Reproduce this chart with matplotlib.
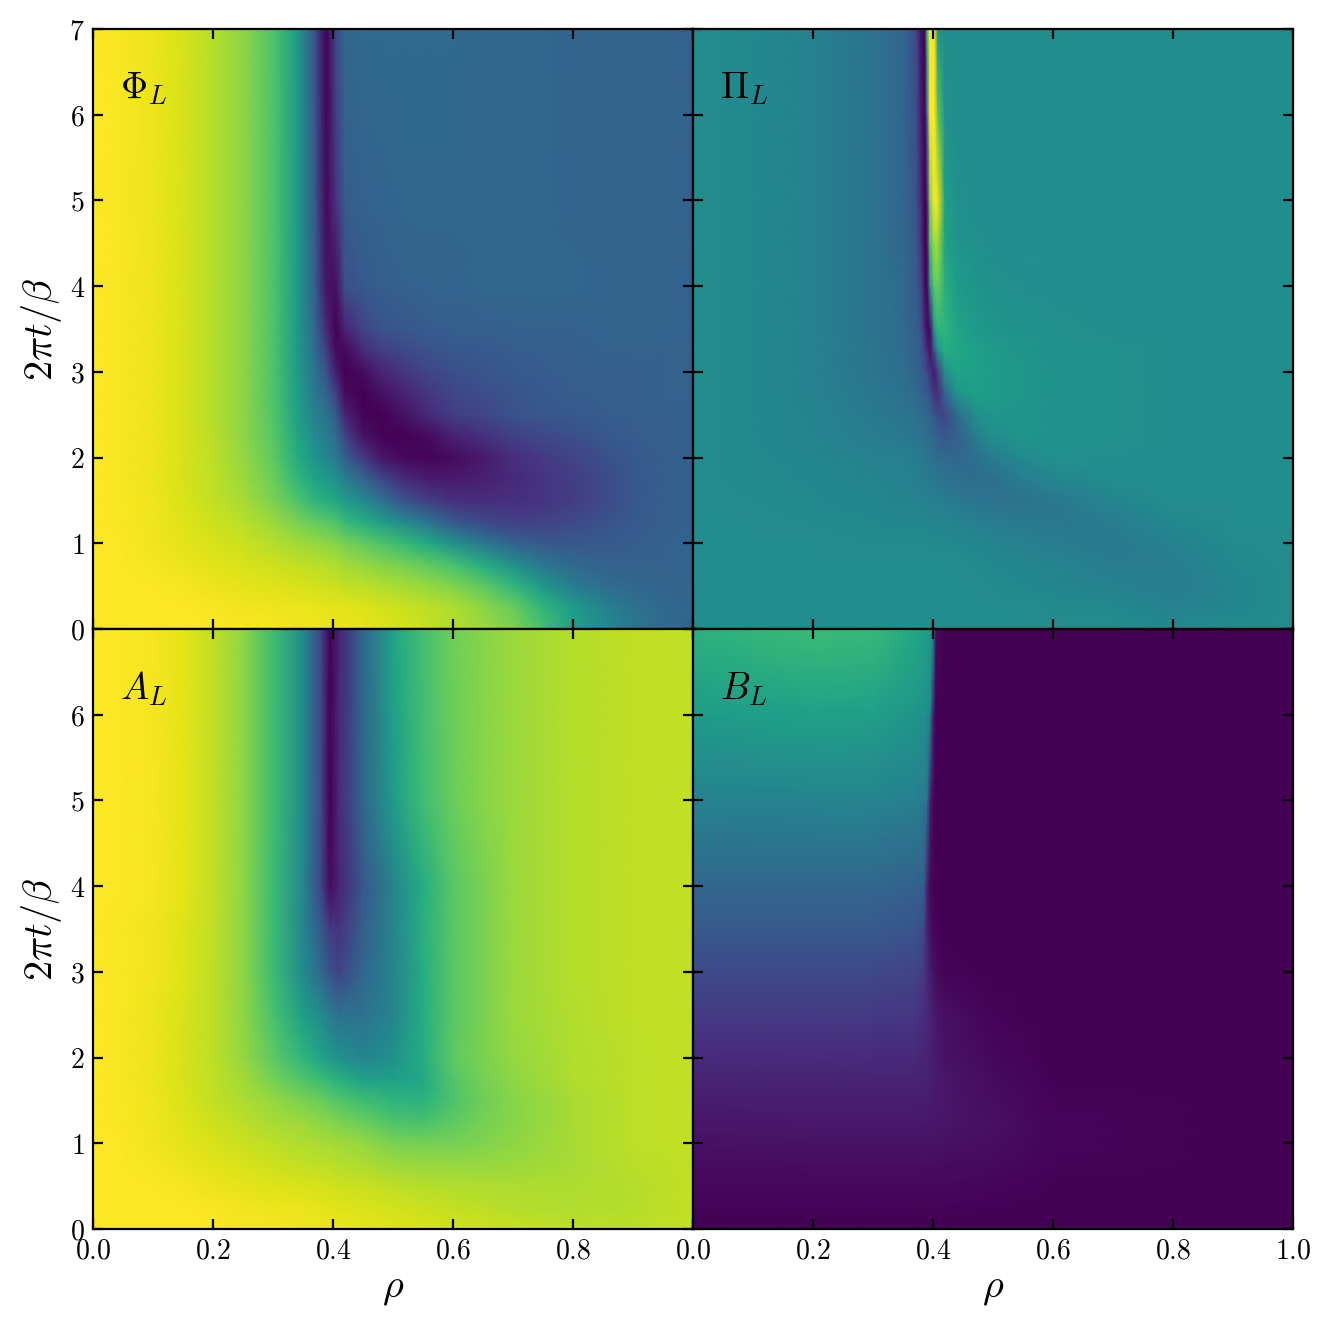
import numpy as np
import matplotlib
matplotlib.use("Agg")
import matplotlib.pyplot as plt

plt.rcParams['mathtext.fontset'] = 'cm'
plt.rcParams['font.family'] = ['DejaVu Serif']

T_PHI = [0, .25, .5, .75, 1, 1.25, 1.5, 1.75, 2, 2.25, 2.5, 2.75, 3, 3.25, 3.5, 4, 5, 7]
RHO_PHI = [0, .05, .1, .15, .2, .25, .3, .34, .37, .389, .405, .42, .45, .48, .52, .56, .6, .65, .7, .75, .8, .85, .9, .95, 1.0]
PHI = [
    [1, 1, 1, 1, .995, .99, .985, .98, .975, .97, .97, .965, .96, .95, .93, .91, .885, .85, .8, .7, .58, .49, .4, .35, .32],
    [1, 1, 1, .995, .99, .98, .975, .97, .965, .96, .96, .955, .95, .935, .92, .9, .88, .83, .77, .66, .55, .45, .38, .34, .32],
    [1, 1, .995, .985, .97, .96, .95, .94, .93, .925, .92, .91, .9, .885, .865, .84, .81, .75, .66, .53, .42, .36, .33, .32, .32],
    [1, .995, .985, .97, .955, .94, .925, .91, .895, .89, .88, .86, .84, .815, .79, .75, .71, .62, .5, .4, .34, .31, .31, .31, .32],
    [1, .995, .98, .96, .94, .92, .89, .86, .84, .83, .82, .79, .76, .72, .67, .6, .5, .4, .32, .28, .27, .28, .29, .31, .32],
    [1, .99, .975, .95, .925, .895, .85, .8, .76, .74, .72, .67, .62, .56, .47, .38, .28, .22, .19, .2, .22, .25, .28, .3, .31],
    [1, .99, .975, .945, .91, .87, .8, .72, .65, .62, .59, .54, .47, .38, .25, .18, .14, .13, .14, .15, .18, .22, .27, .3, .31],
    [1, .99, .97, .94, .905, .85, .77, .66, .58, .54, .5, .43, .33, .22, .12, .08, .07, .09, .12, .15, .18, .22, .27, .3, .31],
    [1, .99, .97, .94, .9, .84, .75, .62, .52, .46, .41, .3, .17, .06, .02, .01, .03, .07, .13, .17, .2, .24, .28, .3, .31],
    [1, .99, .97, .94, .895, .83, .74, .59, .48, .42, .35, .2, .05, .01, 0, .03, .09, .14, .19, .22, .24, .27, .29, .3, .31],
    [1, .99, .97, .94, .89, .83, .73, .57, .44, .38, .28, .1, .01, 0, .05, .12, .18, .21, .25, .27, .28, .29, .3, .3, .31],
    [1, .99, .97, .94, .89, .83, .72, .56, .4, .32, .18, .03, 0, .04, .1, .16, .21, .24, .26, .28, .29, .3, .3, .31, .31],
    [1, .99, .97, .94, .89, .83, .72, .55, .38, .25, .08, 0, .03, .1, .16, .21, .24, .26, .28, .29, .3, .3, .3, .31, .31],
    [1, .99, .97, .94, .89, .83, .72, .55, .35, .18, .02, .02, .12, .18, .22, .25, .27, .28, .29, .3, .3, .31, .31, .31, .31],
    [1, .99, .97, .94, .89, .83, .72, .55, .33, .12, 0, .1, .2, .25, .27, .29, .3, .3, .31, .31, .31, .32, .32, .32, .31],
    [1, .99, .97, .94, .89, .83, .72, .55, .3, .05, .04, .24, .28, .3, .31, .32, .32, .33, .33, .33, .33, .32, .32, .32, .31],
    [1, .99, .97, .94, .89, .83, .72, .55, .28, .02, .15, .29, .31, .32, .33, .33, .33, .33, .33, .33, .32, .32, .32, .32, .31],
    [1, .99, .97, .94, .89, .83, .72, .55, .25, 0, .22, .33, .34, .34, .34, .34, .34, .33, .33, .33, .32, .32, .32, .32, .31],
]

T_PI = [0, .25, .5, .75, 1, 1.25, 1.5, 1.75, 2, 2.25, 2.5, 2.75, 3, 3.25, 3.5, 4, 4.5, 5, 6, 7]
RHO_PI = [0, .1, .2, .3, .35, .372, .38, .386, .39, .395, .402, .408, .42, .44, .47, .5, .55, .6, .7, .8, .9, 1.0]
PI = [
    [.485, .485, .485, .485, .485, .485, .485, .485, .485, .485, .485, .485, .485, .485, .485, .485, .485, .485, .485, .475, .485, .485],
    [.485, .485, .485, .485, .485, .485, .485, .485, .485, .485, .485, .485, .485, .485, .485, .485, .485, .48, .47, .44, .46, .485],
    [.485, .485, .485, .485, .485, .485, .485, .485, .485, .485, .485, .485, .485, .485, .485, .48, .47, .46, .44, .42, .46, .485],
    [.485, .485, .485, .485, .485, .485, .485, .485, .485, .485, .485, .485, .485, .485, .48, .47, .46, .45, .42, .42, .47, .485],
    [.485, .485, .485, .48, .48, .48, .48, .48, .48, .48, .475, .475, .47, .47, .46, .45, .44, .42, .41, .44, .48, .485],
    [.485, .485, .48, .47, .46, .46, .46, .46, .46, .45, .45, .45, .45, .44, .43, .42, .41, .4, .42, .47, .485, .485],
    [.485, .48, .47, .46, .45, .44, .44, .44, .44, .43, .43, .43, .42, .41, .39, .38, .38, .4, .46, .49, .485, .485],
    [.485, .475, .465, .45, .44, .43, .425, .42, .415, .41, .4, .39, .38, .36, .35, .36, .42, .46, .49, .49, .485, .485],
    [.485, .475, .46, .44, .43, .415, .41, .4, .39, .38, .37, .355, .34, .33, .36, .42, .48, .5, .495, .49, .485, .485],
    [.485, .47, .45, .42, .41, .39, .38, .37, .36, .35, .33, .3, .27, .3, .42, .49, .52, .51, .5, .49, .485, .485],
    [.485, .47, .45, .41, .39, .37, .35, .34, .33, .31, .27, .23, .2, .35, .49, .53, .52, .51, .5, .49, .485, .485],
    [.485, .47, .44, .4, .37, .34, .32, .3, .28, .24, .15, .13, .33, .52, .56, .55, .53, .51, .5, .49, .485, .485],
    [.485, .47, .44, .39, .36, .32, .29, .26, .22, .15, .06, .18, .5, .58, .57, .55, .53, .51, .5, .49, .485, .485],
    [.485, .47, .44, .39, .35, .31, .27, .2, .13, .04, .25, .5, .62, .6, .57, .54, .52, .51, .5, .49, .485, .485],
    [.485, .47, .44, .38, .34, .3, .25, .12, .03, .02, .55, .65, .65, .58, .54, .52, .51, .5, .49, .485, .485, .485],
    [.485, .47, .44, .38, .34, .28, .2, .04, 0, .5, .74, .76, .63, .55, .52, .5, .495, .49, .485, .485, .485, .485],
    [.485, .47, .44, .38, .335, .27, .15, .01, .03, .7, .86, .85, .58, .52, .5, .49, .485, .485, .485, .485, .485, .485],
    [.485, .47, .44, .38, .33, .25, .12, 0, .05, .8, 1, .97, .56, .5, .49, .485, .485, .485, .485, .485, .485, .485],
    [.485, .47, .44, .38, .33, .24, .08, 0, .3, 1, 1, .75, .5, .49, .485, .485, .485, .485, .485, .485, .485, .485],
    [.485, .47, .44, .38, .33, .22, .05, 0, .65, 1, 1, .5, .49, .485, .485, .485, .485, .485, .485, .485, .485, .485],
]

T_A = [0, .25, .5, .75, 1, 1.25, 1.5, 1.75, 2, 2.5, 3, 3.5, 4, 5, 7]
RHO_A = [0, .05, .1, .15, .2, .25, .3, .35, .38, .395, .41, .45, .5, .55, .6, .65, .7, .8, .9, 1.0]
A = [
    [1, 1, 1, 1, .995, .99, .985, .98, .975, .97, .97, .96, .95, .94, .93, .925, .915, .9, .9, .91],
    [1, 1, 1, .995, .99, .98, .97, .965, .96, .955, .95, .945, .93, .92, .91, .9, .89, .88, .89, .91],
    [1, 1, .995, .985, .97, .96, .95, .94, .935, .93, .925, .915, .9, .89, .885, .88, .875, .875, .89, .91],
    [1, .995, .985, .97, .955, .94, .925, .91, .9, .9, .89, .875, .855, .845, .84, .84, .85, .87, .895, .91],
    [1, .995, .98, .96, .94, .92, .9, .88, .87, .865, .86, .84, .8, .79, .79, .81, .83, .87, .9, .91],
    [1, .99, .975, .95, .925, .895, .87, .85, .83, .82, .8, .77, .72, .71, .75, .79, .82, .87, .9, .91],
    [1, .99, .975, .945, .91, .875, .84, .8, .77, .75, .73, .69, .65, .64, .72, .78, .82, .87, .9, .91],
    [1, .99, .97, .94, .905, .86, .79, .72, .68, .66, .63, .57, .56, .6, .73, .79, .83, .88, .9, .91],
    [1, .99, .97, .94, .9, .84, .75, .65, .58, .54, .5, .45, .5, .62, .75, .8, .84, .88, .9, .91],
    [1, .99, .97, .94, .9, .83, .71, .56, .47, .42, .37, .38, .45, .62, .74, .8, .85, .885, .905, .91],
    [1, .99, .98, .95, .9, .83, .68, .48, .34, .25, .2, .33, .44, .62, .74, .8, .85, .89, .905, .91],
    [1, .99, .98, .95, .905, .83, .68, .46, .28, .17, .15, .3, .45, .63, .74, .8, .85, .89, .905, .91],
    [1, .995, .985, .96, .91, .83, .68, .47, .2, .03, .1, .27, .45, .62, .74, .8, .85, .89, .905, .91],
    [1, .995, .985, .96, .91, .83, .69, .48, .22, 0, .12, .33, .55, .69, .77, .82, .85, .89, .905, .91],
    [1, .995, .985, .96, .91, .83, .69, .48, .2, 0, .1, .33, .58, .7, .78, .82, .85, .89, .905, .91],
]

T_B = [0, .25, .5, .75, 1, 1.25, 1.5, 1.75, 2, 2.5, 3, 3.5, 4, 5, 6, 7]
RHO_B = [0, .2, .3, .37, .38, .385, .39, .395, .40, .405, .42, .5, .6, 1.0]
B = [
    [0, 0, 0, 0, 0, 0, 0, 0, 0, 0, 0, 0, 0, 0],
    [.01, .01, .01, .01, .01, .01, .01, .01, .01, .01, .01, .005, 0, 0],
    [.02, .02, .02, .02, .02, .02, .02, .02, .02, .02, .02, .015, .005, 0],
    [.03, .035, .035, .035, .035, .035, .035, .035, .035, .035, .03, .025, .01, 0],
    [.045, .05, .05, .05, .05, .05, .05, .05, .05, .05, .045, .035, .015, 0],
    [.06, .065, .065, .065, .065, .065, .065, .06, .06, .06, .055, .04, .015, 0],
    [.08, .08, .08, .08, .08, .08, .08, .075, .07, .065, .06, .035, .01, 0],
    [.1, .1, .1, .095, .09, .09, .09, .085, .08, .07, .06, .03, .005, 0],
    [.12, .12, .12, .115, .105, .1, .095, .09, .08, .07, .05, .02, 0, 0],
    [.17, .17, .17, .16, .14, .13, .11, .1, .08, .06, .04, .01, 0, 0],
    [.22, .22, .22, .2, .18, .16, .12, .08, .05, .03, .01, 0, 0, 0],
    [.28, .28, .28, .26, .24, .2, .1, .05, .02, .01, 0, 0, 0, 0],
    [.33, .33, .33, .31, .3, .28, .1, .03, .01, 0, 0, 0, 0, 0],
    [.44, .45, .45, .43, .42, .41, .38, .1, .02, 0, 0, 0, 0, 0],
    [.55, .57, .56, .52, .51, .5, .49, .47, .1, 0, 0, 0, 0, 0],
    [.64, .68, .67, .6, .58, .57, .56, .55, .52, .03, 0, 0, 0, 0],
]

X_TICKS = [0, .2, .4, .6, .8, 1.0]
Y_TICKS = [0, 1, 2, 3, 4, 5, 6, 7]
NAMES = [r'$\Phi_L$', r'$\Pi_L$', r'$A_L$', r'$B_L$']

W, H = 1331, 1329
fig = plt.figure(figsize=(W / 200, H / 200), dpi=200)

def make_axes(px0, py0):
    return fig.add_axes([px0 / W, 1 - (py0 + 600) / H, 600 / W, 600 / H])

axes = [make_axes(93, 29), make_axes(693, 29), make_axes(93, 629), make_axes(693, 629)]
panels = [(RHO_PHI, T_PHI, PHI), (RHO_PI, T_PI, PI), (RHO_A, T_A, A), (RHO_B, T_B, B)]

for i, (ax, (r, t, z)) in enumerate(zip(axes, panels)):
    ax.pcolormesh(r, t, np.array(z), shading='gouraud', cmap='viridis', vmin=0, vmax=1, rasterized=True)
    ax.set_xlim(0, 1)
    ax.set_ylim(0, 7)
    ax.set_xticks(X_TICKS)
    ax.set_yticks(Y_TICKS)
    ax.tick_params(direction='in', top=True, right=True, length=3.5, width=0.8, labelsize=10, pad=3)
    if i >= 2:
        xl = [f'${v:.1f}$' for v in X_TICKS]
        if i == 2:
            xl[-1] = ''
        ax.set_xticklabels(xl)
        ax.set_xlabel(r'$\rho$', fontsize=14.5, labelpad=2.5)
    else:
        ax.set_xticklabels([])
    if i % 2 == 0:
        yl = [f'${v}$' for v in Y_TICKS]
        if i == 2:
            yl[-1] = ''
        ax.set_yticklabels(yl)
        ax.set_ylabel(r'$2\pi t/\beta$', fontsize=14.5, labelpad=2)
    else:
        ax.set_yticklabels([])
    ax.text(.045, 6.3, NAMES[i], fontsize=13.5, va='center', ha='left')

fig.savefig('out.png', dpi=200)
